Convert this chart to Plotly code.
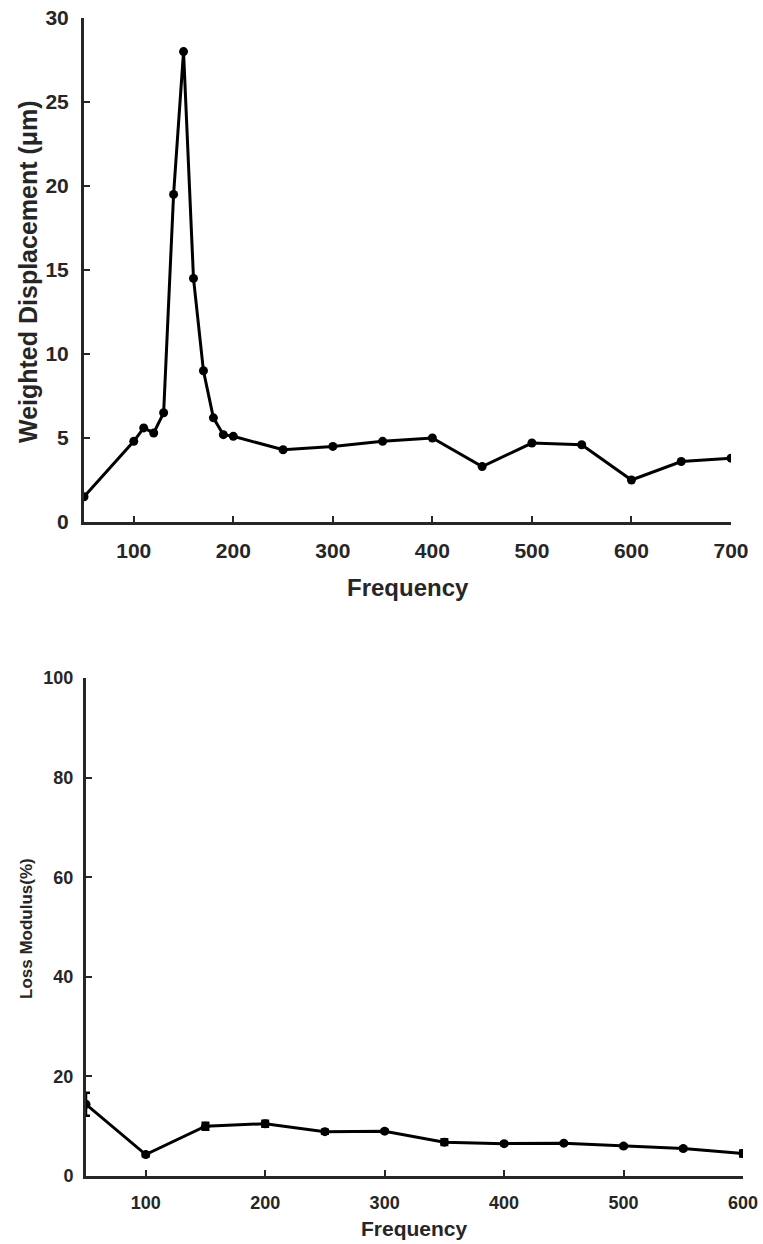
import plotly.graph_objects as go

# Top chart data
freq_top = [50, 100, 110, 120, 130, 140, 150, 160, 170, 180, 190, 200,
            250, 300, 350, 400, 450, 500, 550, 600, 650, 700]
disp_top = [1.5, 4.8, 5.6, 5.3, 6.5, 19.5, 28.0, 14.5, 9.0, 6.2, 5.2, 5.1,
            4.3, 4.5, 4.8, 5.0, 3.3, 4.7, 4.6, 2.5, 3.6, 3.8]

# Bottom chart data
freq_bot = [50, 100, 150, 200, 250, 300, 350, 400, 450, 500, 550, 600]
loss_bot = [14.4, 4.3, 10.0, 10.5, 8.9, 9.0, 6.8, 6.5, 6.6, 6.0, 5.5, 4.5]
loss_err = [2.3, 0.4, 0.7, 0.6, 0.4, 0.3, 0.6, 0.3, 0.2, 0.3, 0.3, 0.6]

top_xticks = [100, 200, 300, 400, 500, 600, 700]
top_yticks = [0, 5, 10, 15, 20, 25, 30]
bot_xticks = [100, 200, 300, 400, 500, 600]
bot_yticks = [0, 20, 40, 60, 80, 100]

W, H = 763, 1244
AX = "#262626"
FONT = "Liberation Sans, Arial, sans-serif"

fig = go.Figure()
fig.add_trace(go.Scatter(x=freq_top, y=disp_top, mode="lines+markers",
                         line=dict(color="black", width=3),
                         marker=dict(color="black", size=9),
                         xaxis="x", yaxis="y", showlegend=False))
fig.add_trace(go.Scatter(x=freq_bot, y=loss_bot, mode="lines+markers",
                         line=dict(color="black", width=3),
                         marker=dict(color="black", size=9),
                         error_y=dict(type="data", array=loss_err, color="black",
                                      thickness=2.5, width=4),
                         xaxis="x2", yaxis="y2", showlegend=False))

common = dict(showline=True, linecolor=AX, linewidth=3, ticks="inside",
              ticklen=6, tickwidth=2, tickcolor=AX, showgrid=False,
              zeroline=False, mirror=False, automargin=False)

fig.update_layout(
    width=W, height=H, margin=dict(l=0, r=0, t=0, b=0),
    paper_bgcolor="white", plot_bgcolor="white",
    font=dict(family=FONT, color=AX),
    xaxis=dict(domain=[84 / W, 731 / W], range=[50, 700], tickvals=top_xticks,
               anchor="y", tickfont=dict(size=21, family=FONT, weight="bold"),
               ticklabelstandoff=8, **common),
    yaxis=dict(domain=[1 - 522 / H, 1 - 18 / H], range=[0, 30], tickvals=top_yticks,
               anchor="x", tickfont=dict(size=21, family=FONT, weight="bold"),
               ticklabelstandoff=8, **common),
    xaxis2=dict(domain=[86 / W, 743 / W], range=[50, 600], tickvals=bot_xticks,
                anchor="y2", tickfont=dict(size=18, family=FONT, weight="bold"),
                ticklabelstandoff=8, **common),
    yaxis2=dict(domain=[1 - 1176 / H, 1 - 678 / H], range=[0, 100], tickvals=bot_yticks,
                anchor="x2", tickfont=dict(size=18, family=FONT, weight="bold"),
                ticklabelstandoff=6, **common),
    annotations=[
        dict(text="<b>Frequency</b>", x=408 / W, y=1 - 587 / H, xref="paper", yref="paper",
             showarrow=False, font=dict(size=24, color=AX), xanchor="center", yanchor="middle"),
        dict(text="<b>Weighted Displacement (μm)</b>", x=28 / W, y=1 - 272 / H,
             xref="paper", yref="paper", textangle=-90, showarrow=False,
             font=dict(size=25, color=AX), xanchor="center", yanchor="middle"),
        dict(text="<b>Frequency</b>", x=414 / W, y=1 - 1228 / H, xref="paper", yref="paper",
             showarrow=False, font=dict(size=21, color=AX), xanchor="center", yanchor="middle"),
        dict(text="<b>Loss Modulus(%)</b>", x=26 / W, y=1 - 929 / H,
             xref="paper", yref="paper", textangle=-90, showarrow=False,
             font=dict(size=17, color=AX), xanchor="center", yanchor="middle"),
    ],
)

fig.write_html("out.html")
